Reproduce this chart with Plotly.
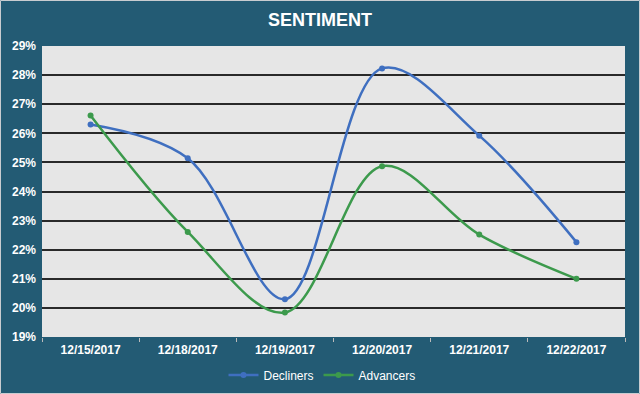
import plotly.graph_objects as go

dates = ["12/15/2017", "12/18/2017", "12/19/2017", "12/20/2017", "12/21/2017", "12/22/2017"]
decliners = [26.30, 25.14, 20.30, 28.23, 25.92, 22.26]
advancers = [26.61, 22.61, 19.84, 24.87, 22.52, 21.00]
y_ticks = list(range(19, 30))
y_labels = [f"{v}%" for v in y_ticks]

W, H = 640, 394
ML, MR, MT, MB = 42, 15, 46, 57
PW, PH = W - ML - MR, H - MT - MB

BG = "#235B74"
fig = go.Figure()
fig.add_trace(go.Scatter(x=dates, y=decliners, name="Decliners", mode="lines+markers",
                         line=dict(color="#3F6FC0", width=2.5, shape="spline", smoothing=1),
                         marker=dict(size=6, color="#3F6FC0")))
fig.add_trace(go.Scatter(x=dates, y=advancers, name="Advancers", mode="lines+markers",
                         line=dict(color="#3C9A4C", width=2.5, shape="spline", smoothing=1),
                         marker=dict(size=6, color="#3C9A4C")))

font = "Liberation Sans, Arial, sans-serif"
fig.update_layout(
    width=W, height=H,
    margin=dict(l=ML, r=MR, t=MT, b=MB, pad=0, autoexpand=False),
    paper_bgcolor=BG, plot_bgcolor="#E6E6E6",
    title=dict(text="<b>SENTIMENT</b>", x=0.5, xanchor="center", y=1 - 20 / H, yanchor="middle",
               font=dict(family=font, size=18, color="white")),
    showlegend=True,
    legend=dict(orientation="h", xref="container", x=322 / W, xanchor="center",
                yref="container", y=1 - 375 / H, yanchor="middle",
                font=dict(family=font, size=12, color="white"), bgcolor="rgba(0,0,0,0)",
                itemwidth=30),
    xaxis=dict(type="category", showgrid=False, ticks="outside", ticklen=4, tickcolor="#BBBBBB",
               tickson="boundaries", tickfont=dict(family=font, size=12, color="white"),
               ticklabelstandoff=4,
               showline=False, range=[-0.5, 5.5]),
    yaxis=dict(range=[19, 29], tickvals=y_ticks, ticktext=[f"<b>{t}</b>" for t in y_labels],
               showgrid=True, gridcolor="#2A2A2A", gridwidth=1.6,
               tickfont=dict(family=font, size=12, color="white"), ticks="", ticklabelstandoff=5,
               zeroline=False, automargin=False),
    shapes=[dict(type="rect", xref="paper", yref="paper",
                 x0=-(ML - 0.5) / PW, x1=1 + (MR - 0.5) / PW,
                 y0=-(MB - 0.5) / PH, y1=1 + (MT - 0.5) / PH,
                 line=dict(color="#C8CCD0", width=1), fillcolor="rgba(0,0,0,0)", layer="below")],
)
fig.update_xaxes(tickvals=dates, ticktext=[f"<b>{d}</b>" for d in dates], automargin=False)
# cover the gridline at the bottom edge of the plot
fig.add_shape(type="line", xref="paper", yref="y", x0=0, x1=1, y0=19, y1=19,
              line=dict(color="#E6E6E6", width=2), layer="above")
fig.write_html("out.html", config={"displayModeBar": False},
               post_script="document.body.style.margin='0';")
